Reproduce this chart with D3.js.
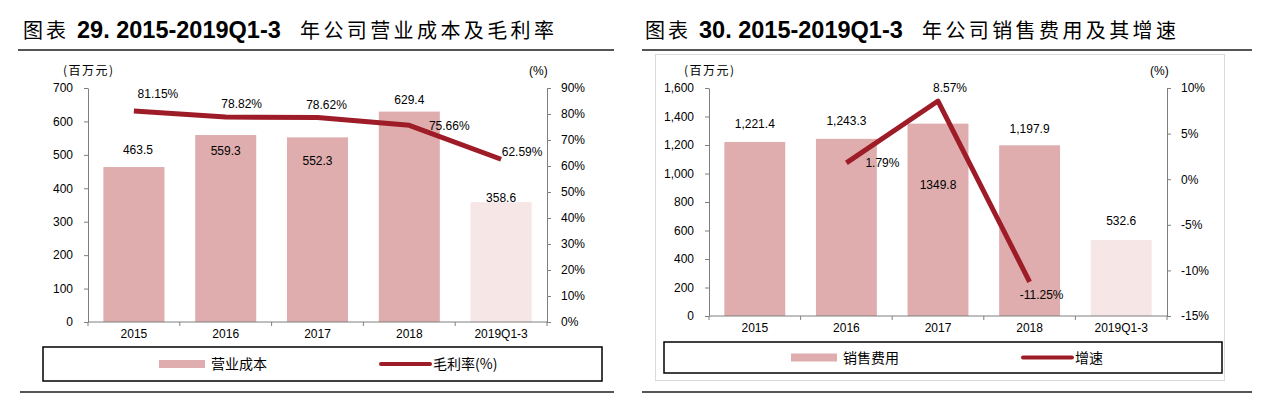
<!DOCTYPE html>
<html>
<head>
<meta charset="utf-8">
<script src="https://cdn.jsdelivr.net/npm/d3@7"></script>
<style>
  body { margin: 0; background: #fff; }
  svg text { font-family: "Liberation Sans", Arial, sans-serif; fill: #000; }
  svg .cjk { font-family: "Noto Sans CJK SC", sans-serif; }
</style>
</head>
<body>
<svg id="vis" width="1262" height="394"></svg>
<script>
// ---- data ----
const categories = ["2015", "2016", "2017", "2018", "2019Q1-3"];

const costValues = [463.5, 559.3, 552.3, 629.4, 358.6];
const costLabels = ["463.5", "559.3", "552.3", "629.4", "358.6"];
const grossMargin = [81.15, 78.82, 78.62, 75.66, 62.59];
const marginLabels = ["81.15%", "78.82%", "78.62%", "75.66%", "62.59%"];
const costTicks = [0, 100, 200, 300, 400, 500, 600, 700];
const marginTicks = [0, 10, 20, 30, 40, 50, 60, 70, 80, 90];

const salesExpense = [1221.4, 1243.3, 1349.8, 1197.9, 532.6];
const expenseLabels = ["1,221.4", "1,243.3", "1349.8", "1,197.9", "532.6"];
const salesGrowth = [null, 1.79, 8.57, -11.25, null];
const growthLabels = ["", "1.79%", "8.57%", "-11.25%", ""];
const expenseTicks = [0, 200, 400, 600, 800, 1000, 1200, 1400, 1600];
const growthTicks = [-15, -10, -5, 0, 5, 10];

// label nudges (dx, dy) relative to the mark, kept apart from the data
const costNudge = [[4, -17], [0, 16], [0, 23], [0, -12], [0, -4]];
const marginNudge = [[24, -17], [16, -13], [9, -13], [40, 0], [21, -8]];
const expenseNudge = [[0, -18], [0, -18], [0, 61], [0, -17], [0, -19]];
const growthNudge = [null, [36, 0], [12, -13], [12, 13], null];

const barColor = "#dfadad";
const barLight = "#f6e6e6";
const lineColor = "#9e1c28";
const axisColor = "#7f7f7f";

const svg = d3.select("#vis");

function drawTitle(x, num, rest) {
  var t = svg.append("text")
    .attr("y", 38);
  t.append("tspan").attr("class", "cjk")
    .attr("x", x)
    .style("font-size", "20px").style("letter-spacing", "3px")
    .text("图表");
  t.append("tspan")
    .attr("x", x + 54)
    .style("font-size", "23.5px").style("font-weight", "bold")
    .text(num);
  t.append("tspan").attr("class", "cjk")
    .attr("x", x + 277)
    .style("font-size", "20px").style("letter-spacing", "3.4px")
    .text(rest);
}

function drawCombo(cfg) {
  var chart = svg.append("g").attr("class", "chart");

  var x = d3.scaleBand()
    .domain(categories)
    .range([cfg.x0, cfg.x1])
    .paddingInner(0.335)
    .paddingOuter(0.1675);

  var yL = d3.scaleLinear()
    .domain([cfg.leftTicks[0], cfg.leftTicks[cfg.leftTicks.length - 1]])
    .range([cfg.yBottom, cfg.yTop]);
  var yR = d3.scaleLinear()
    .domain([cfg.rightTicks[0], cfg.rightTicks[cfg.rightTicks.length - 1]])
    .range([cfg.yBottom, cfg.yTop]);

  //bars
  chart.append("g").selectAll("rect")
    .data(cfg.bars)
    .enter()
    .append("rect")
    .attr("x", (d, i) => x(categories[i]))
    .attr("y", d => yL(d))
    .attr("width", x.bandwidth())
    .attr("height", d => yL(0) - yL(d))
    .attr("fill", (d, i) => i === categories.length - 1 ? barLight : barColor);

  //axes
  var axL = chart.append("g")
    .attr("transform", "translate(" + cfg.x0 + ",0)")
    .call(d3.axisLeft(yL).tickValues(cfg.leftTicks).tickFormat(cfg.leftFmt)
      .tickSize(4).tickSizeOuter(0).tickPadding(11));
  var axR = chart.append("g")
    .attr("transform", "translate(" + cfg.x1 + ",0)")
    .call(d3.axisRight(yR).tickValues(cfg.rightTicks).tickFormat(d => d + "%")
      .tickSize(4).tickSizeOuter(0).tickPadding(10));
  var axX = chart.append("g")
    .attr("transform", "translate(0," + cfg.yBottom + ")")
    .call(d3.axisBottom(x).tickSize(0).tickPadding(7));
  // boundary ticks between categories
  var bounds = d3.range(categories.length + 1).map(i => cfg.x0 + i * x.step());
  axX.selectAll("line.bound")
    .data(bounds)
    .enter()
    .append("line")
    .attr("class", "bound")
    .attr("x1", d => d).attr("x2", d => d)
    .attr("y1", 0).attr("y2", 4);

  [axL, axR, axX].forEach(a => {
    a.select(".domain").attr("stroke", axisColor);
    a.selectAll("line").attr("stroke", axisColor);
    a.selectAll("text").style("font-size", "12px")
      .style("font-family", "'Liberation Sans', Arial, sans-serif").attr("fill", "#000");
  });
  axX.select(".domain").attr("d", "M" + cfg.x0 + ",0H" + cfg.x1);

  //unit labels
  chart.append("text").attr("class", "cjk")
    .attr("x", cfg.unitX).attr("y", 75)
    .style("font-size", "12px").style("letter-spacing", "1.5px")
    .text("(百万元)");
  chart.append("text")
    .attr("x", cfg.pctX).attr("y", 75)
    .style("font-size", "12px")
    .text("(%)");

  //line
  var cx = i => x(categories[i]) + x.bandwidth() / 2;
  var line = d3.line()
    .defined(d => d !== null)
    .x((d, i) => cx(i))
    .y(d => yR(d));
  chart.append("path")
    .datum(cfg.line)
    .attr("d", line)
    .attr("fill", "none")
    .attr("stroke", lineColor)
    .attr("stroke-width", 5)
    .attr("stroke-linejoin", "round");

  //bar labels
  chart.append("g").selectAll("text")
    .data(cfg.bars)
    .enter()
    .append("text")
    .attr("x", (d, i) => cx(i) + cfg.barNudge[i][0])
    .attr("y", (d, i) => yL(d) + cfg.barNudge[i][1])
    .attr("dy", "0.36em")
    .attr("text-anchor", "middle")
    .style("font-size", "12px")
    .text((d, i) => cfg.barLabels[i]);

  //line labels (skip the empty points)
  var pts = [];
  for (var i = 0; i < cfg.line.length; i++) {
    if (cfg.line[i] !== null) {
      pts.push({i: i, v: cfg.line[i]});
    }
  }
  chart.append("g").selectAll("text")
    .data(pts)
    .enter()
    .append("text")
    .attr("x", d => cx(d.i) + cfg.lineNudge[d.i][0])
    .attr("y", d => yR(d.v) + cfg.lineNudge[d.i][1])
    .attr("dy", "0.36em")
    .attr("text-anchor", "middle")
    .style("font-size", "12px")
    .text(d => cfg.lineLabels[d.i]);

  //legend
  var l = cfg.legend;
  var legend = chart.append("g").attr("class", "legend");
  legend.append("rect")
    .attr("x", l.x).attr("y", l.y)
    .attr("width", l.w).attr("height", l.h)
    .attr("fill", "none").attr("stroke", "#000").attr("stroke-width", 1.5);
  var my = l.y + l.h / 2;
  legend.append("rect")
    .attr("x", l.sw).attr("y", my - 4)
    .attr("width", 46).attr("height", 8)
    .attr("fill", barColor);
  legend.append("text").attr("class", "cjk")
    .attr("x", l.sw + 52).attr("y", my).attr("dy", "0.36em")
    .style("font-size", "14px")
    .text(cfg.barName);
  legend.append("line")
    .attr("x1", l.lx).attr("x2", l.lx + 49)
    .attr("y1", my).attr("y2", my)
    .attr("stroke", lineColor).attr("stroke-width", 4)
    .attr("stroke-linecap", "round");
  legend.append("text").attr("class", "cjk")
    .attr("x", l.lx + 52).attr("y", my).attr("dy", "0.36em")
    .style("font-size", "14px")
    .text(cfg.lineName);
}

// left chart
drawTitle(23, "29. 2015-2019Q1-3", "年公司营业成本及毛利率");
svg.append("line").attr("x1", 18).attr("x2", 614).attr("y1", 50).attr("y2", 50)
  .attr("stroke", "#555").attr("stroke-width", 2);
svg.append("line").attr("x1", 20).attr("x2", 614).attr("y1", 392).attr("y2", 392)
  .attr("stroke", "#555").attr("stroke-width", 2);

drawCombo({
  x0: 88, x1: 547, yTop: 88, yBottom: 322,
  bars: costValues, barLabels: costLabels, barNudge: costNudge,
  line: grossMargin, lineLabels: marginLabels, lineNudge: marginNudge,
  leftTicks: costTicks, leftFmt: d3.format("d"), rightTicks: marginTicks,
  unitX: 63, pctX: 529,
  barName: "营业成本", lineName: "毛利率(%)",
  legend: {x: 43, y: 347, w: 559, h: 34, sw: 159, lx: 381}
});

// right chart
drawTitle(645, "30. 2015-2019Q1-3", "年公司销售费用及其增速");
svg.append("rect").attr("x", 655.5).attr("y", 54.5).attr("width", 569).attr("height", 326)
  .attr("fill", "none").attr("stroke", "#d9d9d9");
svg.append("line").attr("x1", 642).attr("x2", 1252).attr("y1", 50).attr("y2", 50)
  .attr("stroke", "#555").attr("stroke-width", 2);
svg.append("line").attr("x1", 642).attr("x2", 1252).attr("y1", 392).attr("y2", 392)
  .attr("stroke", "#555").attr("stroke-width", 2);

drawCombo({
  x0: 709, x1: 1167, yTop: 88, yBottom: 316,
  bars: salesExpense, barLabels: expenseLabels, barNudge: expenseNudge,
  line: salesGrowth, lineLabels: growthLabels, lineNudge: growthNudge,
  leftTicks: expenseTicks, leftFmt: d3.format(","), rightTicks: growthTicks,
  unitX: 684, pctX: 1150,
  barName: "销售费用", lineName: "增速",
  legend: {x: 664, y: 342, w: 558, h: 31, sw: 791, lx: 1023}
});
</script>
</body>
</html>
